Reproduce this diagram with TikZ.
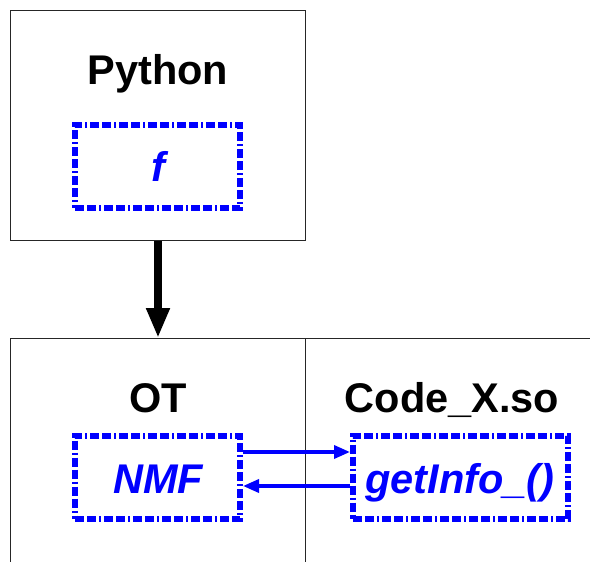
\documentclass[tikz,border=0pt]{standalone}
\usepackage{fontspec}
\setmainfont{Liberation Sans}
\usetikzlibrary{arrows.meta}
\tikzset{
  frame/.style={draw=black!85, line width=0.9pt},
  title/.style={font=\fontsize{41.5}{48}\selectfont\bfseries, anchor=base, inner sep=0pt},
  func/.style={draw=blue, line width=6pt, line cap=butt, line join=miter,
    dash pattern=on 9pt off 3pt on 9pt off 3pt on 2pt off 3pt,
    minimum width=165pt, minimum height=83pt, inner sep=0pt},
  functext/.style={font=\fontsize{41.5}{48}\selectfont\bfseries\itshape, text=blue, anchor=base, inner sep=0pt},
  call/.style={draw=blue, line width=3.5pt, -{Triangle[length=16pt,width=13pt]}},
}
\begin{document}
\begin{tikzpicture}[x=1pt, y=-1pt]
  \useasboundingbox (0,0) rectangle (590,562);
  % Python frame
  \node[frame, minimum width=295pt, minimum height=230pt, inner sep=0pt, anchor=north west] (py) at (10,10) {};
  \node[title] (pyt) at (158,84) {Python};
  \node[func] (fbox) at (157.5,166.5) {};
  \node[functext] (ft) at (158,181) {f};
  % lower frames (open at bottom and right)
  \coordinate (bl) at (10,562);
  \coordinate (tl) at (10,338);
  \coordinate (tr) at (590,338);
  \coordinate (mt) at (305,338);
  \coordinate (mb) at (305,562);
  \draw[frame] (bl) -- (tl) -- (tr);
  \draw[frame] (mt) -- (mb);
  \node[title] (ot) at (158,412) {OT};
  \node[title] (cx) at (452,412) {Code\_X.so};
  \node[func] (nmf) at (157.5,477) {};
  \node[functext] (nmft) at (158,493) {NMF};
  \node[func, minimum width=215pt] (gi) at (460.5,477) {};
  \node[functext] (git) at (460,493) {getInfo\_()};
  % calls
  \coordinate (down) at (158,338);
  \draw[line width=8pt, -{Triangle[length=30pt,width=22pt]}] (py.south -| down) -- (down);
  \draw[call] ([yshift=25pt]nmf.east) -- ([yshift=25pt]gi.west);
  \draw[call] ([yshift=-9pt]gi.west) -- ([yshift=-9pt]nmf.east);
\end{tikzpicture}
\end{document}
